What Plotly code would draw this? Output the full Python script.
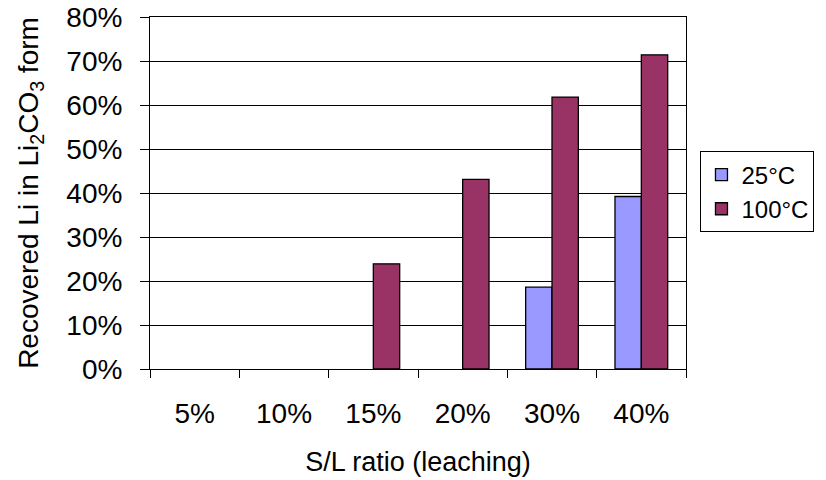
import plotly.graph_objects as go

# S/L ratio categories and recovered lithium (%) for each leaching temperature
categories = ["5%", "10%", "15%", "20%", "30%", "40%"]
recovery_25c = [None, None, None, None, 18.6, 39.2]
recovery_100c = [None, None, 23.9, 43.1, 61.8, 71.4]
y_ticks = [0, 10, 20, 30, 40, 50, 60, 70, 80]
y_tick_labels = [f"{v}%" for v in y_ticks]

FONT = "Liberation Sans"

fig = go.Figure()
fig.add_trace(go.Bar(
    x=categories, y=recovery_25c, name="25°C",
    marker=dict(color="#9999FF", line=dict(color="black", width=1.3)),
))
fig.add_trace(go.Bar(
    x=categories, y=recovery_100c, name="100°C",
    marker=dict(color="#993366", line=dict(color="black", width=1.3)),
))

fig.update_layout(
    width=826, height=480,
    margin=dict(l=150, r=138, t=17, b=111),
    paper_bgcolor="white", plot_bgcolor="white",
    barmode="group", bargap=0.41, bargroupgap=0,
    font=dict(family=FONT, size=27, color="black"),
    showlegend=True,
    legend=dict(
        x=1.027, y=0.503, xanchor="left", yanchor="middle",
        bordercolor="black", borderwidth=1,
        font=dict(family=FONT, size=24, color="black"),
    ),
    hovermode=False,
)

fig.update_xaxes(
    type="category", tickson="boundaries",
    ticks="outside", ticklen=8, tickwidth=1, tickcolor="black",
    showline=True, linecolor="black", linewidth=1, mirror=True,
    showgrid=False, automargin=False, ticklabelstandoff=19,
    tickfont=dict(family=FONT, size=28, color="black"),
    title=dict(text="S/L ratio (leaching)", standoff=24,
               font=dict(family=FONT, size=27, color="black")),
)
fig.update_yaxes(
    range=[0, 80], tickmode="array", tickvals=y_ticks, ticktext=y_tick_labels,
    ticks="outside", ticklen=9, tickwidth=1, tickcolor="black",
    showline=True, linecolor="black", linewidth=1, mirror=True,
    showgrid=True, gridcolor="black", gridwidth=1,
    zeroline=False, automargin=False, ticklabelstandoff=12,
    tickfont=dict(family=FONT, size=28, color="black"),
    title=dict(text="Recovered Li in Li<sub>2</sub>CO<sub>3</sub> form", standoff=19,
               font=dict(family=FONT, size=28, color="black")),
)

fig.write_html("out.html")
